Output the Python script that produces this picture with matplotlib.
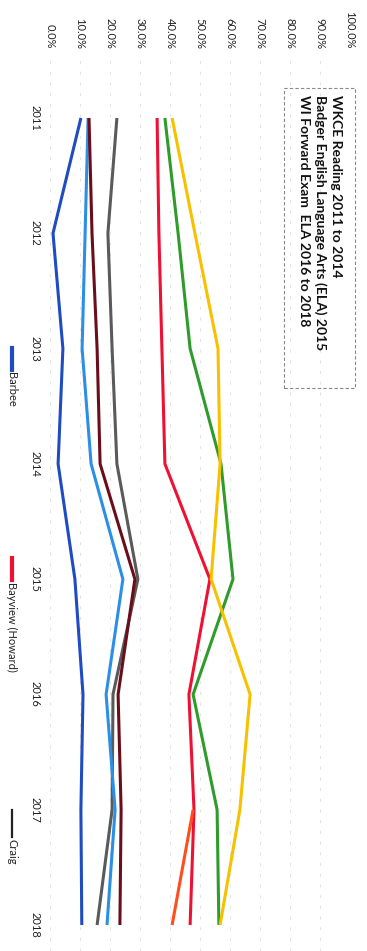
import matplotlib
matplotlib.use("Agg")
import matplotlib.pyplot as plt
import numpy as np
from matplotlib.patches import Rectangle
from matplotlib.lines import Line2D

plt.rcParams['font.family'] = ['Lato', 'DejaVu Sans']

# ---- data (percent proficient) ----
years = [2011, 2012, 2013, 2014, 2015, 2016, 2017, 2018]
barbee = [10.3, 1.0, 4.3, 2.7, 8.3, 11.0, 10.3, 10.6]
bayview = [35.7, 36.3, 37.3, 38.3, 53.3, 46.3, 48.0, 46.7]
craig = [22.3, 19.3, 20.7, 22.3, 29.3, 21.0, 20.7, 15.7]
light_blue_vals = [12.7, 11.7, 10.7, 13.7, 24.3, 18.7, 21.7, 19.0]
maroon_vals = [13.0, 14.0, 15.7, 16.7, 28.3, 22.7, 23.7, 23.3]
green_vals = [38.3, 42.7, 46.7, 57.0, 61.0, 47.7, 55.7, 56.3]
gold_vals = [40.7, 48.3, 56.0, 56.7, 53.7, 66.7, 63.3, 56.7]
orange_vals = [np.nan, np.nan, np.nan, np.nan, np.nan, np.nan, 47.7, 40.7]

pct_ticks = [0, 10, 20, 30, 40, 50, 60, 70, 80, 90, 100]
pct_labels = [f"{t:.1f}%" for t in pct_ticks]
legend_names = ["Barbee", "Bayview (Howard)", "Craig"]
title_lines = ["WKCE Reading 2011 to 2014",
               "Badger English Language Arts (ELA) 2015",
               "WI Forward Exam  ELA 2016 to 2018"]

W, H = 367, 951
fig = plt.figure(figsize=(W / 100, H / 100), dpi=100)
fig.patch.set_facecolor('white')

def fx(px):
    return px / W

def fy(py):
    return 1 - py / H

# chart is laid out sideways: percent runs left->right, years run top->bottom
ax = fig.add_axes([fx(50), 0, fx(350) - fx(50), fy(60)])
ax.set_xlim(0, 100)
ax.set_ylim(2018.2255, 2010.497)
for s in ax.spines.values():
    s.set_visible(False)

ax.set_xticks(pct_ticks)
ax.set_xticklabels(pct_labels, rotation=-90, fontsize=8, color='#222222')
ax.xaxis.tick_top()
ax.tick_params(axis='x', length=0, pad=8)
ax.set_yticks(years)
ax.set_yticklabels([str(y) for y in years], rotation=-90, fontsize=8,
                   color='#222222', va='center')
ax.tick_params(axis='y', length=0, pad=7)

for t in pct_ticks:
    ax.axvline(t, color='#e2e2e2', lw=0.7, ls=(0, (3, 8)), zorder=0)

lw = 2.2
series = [
    (barbee, '#1f4cc2'),
    (bayview, '#ee1133'),
    (craig, '#5a5a5a'),
    (light_blue_vals, '#2b8fe6'),
    (maroon_vals, '#6a0e1c'),
    (green_vals, '#2e9b2a'),
    (gold_vals, '#f7c100'),
    (orange_vals, '#ff4d1f'),
]
for vals, col in series:
    ax.plot(vals, years, color=col, lw=lw, solid_capstyle='butt', zorder=2)

# title box
fig.patches.append(Rectangle((fx(284), fy(388)), fx(355) - fx(284), fy(88) - fy(388),
                             transform=fig.transFigure, fill=False,
                             edgecolor='#888888', lw=0.8, ls=(0, (3, 2))))
for i, line in enumerate(title_lines):
    fig.text(fx(336 - 16 * i), fy(95), line, rotation=-90, rotation_mode='anchor',
             ha='left', va='center', fontsize=10, fontweight='bold', color='#111111')

# legend entries
legend_specs = [
    (legend_names[0], '#1f4cc2', 348, 370, 3.0),
    (legend_names[1], '#ee1133', 558, 580, 3.0),
    (legend_names[2], '#222222', 810, 837, 1.6),
]
for name, col, y0, y1, lwd in legend_specs:
    fig.lines.append(Line2D([fx(12), fx(12)], [fy(y0), fy(y1)],
                            transform=fig.transFigure, color=col, lw=lwd))
    fig.text(fx(12), fy(y1 + 2), name, rotation=-90, rotation_mode='anchor',
             ha='left', va='center', fontsize=8, color='#222222')

fig.savefig('out.png', dpi=100, facecolor='white')
